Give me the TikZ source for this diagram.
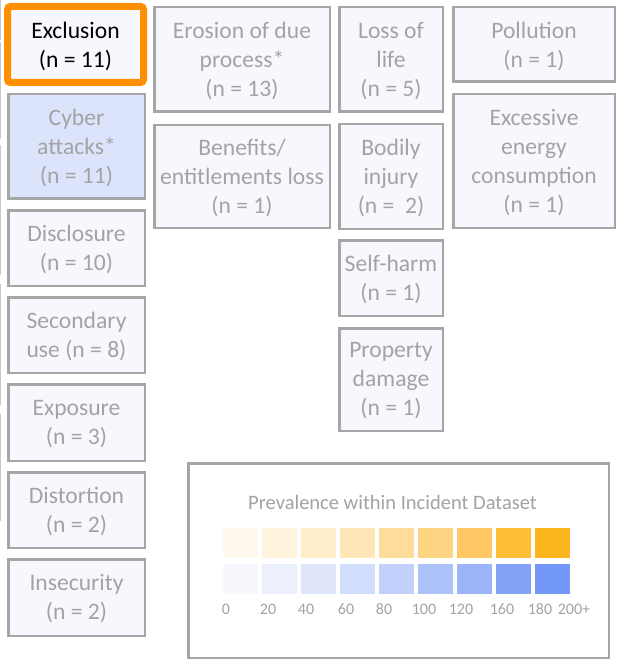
\documentclass[tikz,border=0pt]{standalone}
\usepackage{fontspec}
\setmainfont{Carlito}
\definecolor{boxfill}{HTML}{F7F8FD}
\definecolor{boxline}{HTML}{A6A6A6}
\definecolor{boxtext}{HTML}{A3A3A3}
\definecolor{hilite}{HTML}{FF8F00}
\definecolor{cyberfill}{HTML}{DCE4FC}
\definecolor{edgefrag}{HTML}{C8C8C8}
\begin{document}
\begin{tikzpicture}[x=1pt,y=-1pt,
  harm/.style={draw=boxline,line width=2.5pt,fill=boxfill},
  harmtext/.style={text=boxtext,align=center,font=\fontsize{23.6}{29}\selectfont,inner sep=0pt,yshift=-1.5pt},
  scalelabel/.style={text=boxtext,font=\fontsize{16}{19}\selectfont,inner sep=0pt}]
\useasboundingbox (0,0) rectangle (616,660);
\fill[white] (0,0) rectangle (616,660);

% edges of the neighbouring column, cut off at the left margin
\foreach \a/\b in {0/40,42/139,145/275,284/405,414/521}
  \draw[edgefrag,line width=1.2pt] (0.6,\a) -- (0.6,\b);

% highlighted category
\draw[draw=hilite,line width=7pt,fill=boxfill,rounded corners=3pt] (7.5,6.5) rectangle (143.5,82.5);
\node[harmtext,text=black] (excl) at (75.5,44.5) {Exclusion\\(n = 11)};

% left column
\draw[harm,fill=cyberfill] (8.25,94.25) rectangle (144.75,198.75);
\node[harmtext] (cyber) at (76.5,146.5) {Cyber\\attacks*\\(n = 11)};
\draw[harm] (8.25,210.25) rectangle (144.75,285.75);
\node[harmtext] (discl) at (76.5,248) {Disclosure\\(n = 10)};
\draw[harm] (8.25,297.25) rectangle (144.75,372.75);
\node[harmtext] (second) at (76.5,335) {Secondary\\use (n = 8)};
\draw[harm] (8.25,384.25) rectangle (144.75,460.75);
\node[harmtext] (expo) at (76.5,422.5) {Exposure\\(n = 3)};
\draw[harm] (8.25,472.25) rectangle (144.75,547.75);
\node[harmtext] (dist) at (76.5,510) {Distortion\\(n = 2)};
\draw[harm] (8.25,559.25) rectangle (144.75,635.75);
\node[harmtext] (insec) at (76.5,597.5) {Insecurity\\(n = 2)};

% second column
\draw[harm] (154.25,7.25) rectangle (329.75,111.75);
\node[harmtext] (erosion) at (242,59.5) {Erosion of due\\process*\\(n = 13)};
\draw[harm] (154.25,125.25) rectangle (329.75,227.75);
\node[harmtext] (benefit) at (242,176.5) {Benefits/\\entitlements loss\\(n = 1)};

% third column
\draw[harm] (339.25,7.25) rectangle (442.75,111.75);
\node[harmtext] (life) at (391,59.5) {Loss of\\life\\(n = 5)};
\draw[harm] (339.25,124.25) rectangle (442.75,228.75);
\node[harmtext] (injury) at (391,176.5) {Bodily\\injury\\(n =\ \ 2)};
\draw[harm] (339.25,240.25) rectangle (442.75,315.75);
\node[harmtext] (selfharm) at (391,278) {Self-harm\\(n = 1)};
\draw[harm] (339.25,328.25) rectangle (442.75,430.75);
\node[harmtext] (property) at (391,379.5) {Property\\damage\\(n = 1)};

% fourth column
\draw[harm] (453.25,7.25) rectangle (614.75,81.75);
\node[harmtext] (pollution) at (534,44.5) {Pollution\\(n = 1)};
\draw[harm] (453.25,94.25) rectangle (614.75,227.75);
\node[harmtext] (energy) at (534,161) {Excessive\\energy\\consumption\\(n = 1)};

% legend
\draw[draw=boxline,line width=2.5pt,fill=white] (188.25,463.25) rectangle (608.75,657.75);
\node[text=boxtext,font=\fontsize{20.5}{24}\selectfont,inner sep=0pt] (title) at (392.5,502.5) {Prevalence within Incident Dataset};
\foreach \i/\oc/\bc in {0/FFF9EE/F6F8FE,1/FFF3DC/ECF0FD,2/FFEDC9/DFE6FC,3/FFE6B6/D0DDFC,4/FEDD9A/C1D1FB,5/FED582/AEC2FA,6/FEC964/9CB4F9,7/FEBE36/83A3F9,8/FDB61E/7498FA}{
  \definecolor{swo}{HTML}{\oc}
  \definecolor{swb}{HTML}{\bc}
  \fill[swo] (223+39*\i,528) rectangle ++(35,30);
  \fill[swb] (223+39*\i,564) rectangle ++(35,30);
}
\foreach \x/\t in {226/0,268/20,306/40,346/60,384/80,424/100,461/120,502/160,540/180,574/200+}
  \node[scalelabel] at (\x,609) {\t};
\end{tikzpicture}
\end{document}
